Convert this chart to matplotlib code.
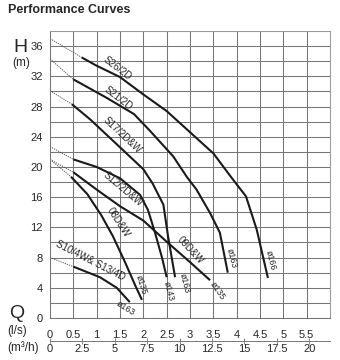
import numpy as np
import matplotlib.pyplot as plt

plt.rcParams["font.family"] = ["Liberation Sans", "DejaVu Sans"]

# Performance curves: flow Q (l/s) vs head H (m)
# dashed part near shut-off, then the solid working range
s26_dash = ([0.0, 0.68], [37.0, 34.5])
s26_q = [0.68, 1.0, 1.5, 2.0, 2.5, 3.0, 3.5, 3.9, 4.2, 4.43, 4.67]
s26_h = [34.5, 33.4, 31.9, 29.6, 27.4, 24.6, 21.8, 18.5, 16.1, 11.7, 5.3]

s21_dash = ([0.0, 0.5], [34.3, 31.6])
s21_q = [0.5, 1.2, 1.8, 2.14, 2.64, 2.93, 3.14, 3.43, 3.64, 3.81]
s21_h = [31.6, 29.2, 27.0, 24.8, 21.4, 18.7, 17.0, 13.9, 11.3, 6.0]

s17_dash = ([0.0, 0.47], [30.1, 28.3])
s17_q = [0.47, 0.86, 1.5, 2.0, 2.2, 2.43, 2.53, 2.68]
s17_h = [28.3, 26.3, 22.6, 19.7, 17.8, 15.0, 10.8, 5.4]

s12_dash = ([0.0, 0.5], [22.7, 21.0])
s12_q = [0.5, 1.0, 1.5, 1.93, 2.1, 2.25, 2.4, 2.5]
s12_h = [21.0, 20.0, 18.5, 16.3, 14.3, 11.3, 8.0, 5.4]

d09_dash = ([0.0, 0.5], [21.0, 19.3])
d09_q = [0.5, 1.0, 1.5, 2.0, 2.5, 3.0, 3.43]
d09_h = [19.3, 17.0, 14.8, 12.9, 10.1, 7.4, 5.0]

d08_dash = ([0.0, 0.45], [21.0, 18.7])
d08_q = [0.45, 0.8, 1.1, 1.35, 1.6, 1.82, 1.97]
d08_h = [18.7, 16.4, 13.6, 10.8, 7.5, 4.4, 2.4]

s10_dash = ([0.0, 0.5], [8.0, 6.8])
s10_q = [0.5, 1.07, 1.43, 1.71]
s10_h = [6.8, 5.4, 4.0, 2.1]

curves = [
    (s26_dash, s26_q, s26_h),
    (s21_dash, s21_q, s21_h),
    (s17_dash, s17_q, s17_h),
    (s12_dash, s12_q, s12_h),
    (d09_dash, d09_q, d09_h),
    (d08_dash, d08_q, d08_h),
    (s10_dash, s10_q, s10_h),
]

# curve names: (text, q, h, angle)
names = [
    ("S26/2D", 1.45, 33.1, -37),
    ("S21/2D", 1.46, 29.1, -37),
    ("S17/2D&W", 1.55, 24.2, -43),
    ("S12/2D&W", 1.57, 17.0, -40),
    ("08D&W", 1.47, 12.6, -57),
    ("09D&W", 3.0, 9.0, -47),
    ("S10/4W& S13/4D", 0.86, 7.6, -27),
]
# impeller diameters at curve ends
diams = [
    ("ø166", 4.73, 7.6, -76),
    ("ø163", 3.90, 7.9, -76),
    ("ø163", 2.88, 4.6, -76),
    ("ø143", 2.55, 3.6, -76),
    ("ø135", 3.60, 3.6, -55),
    ("ø135", 1.95, 4.4, -72),
    ("ø163", 1.63, 1.3, -32),
]

q_ticks = [0, 0.5, 1, 1.5, 2, 2.5, 3, 3.5, 4, 4.5, 5, 5.5]
q_labels = ["0", "0.5", "1", "1.5", "2", "2.5", "3", "3.5", "4", "4.5", "5", "5.5"]
m3h_ticks = [0, 2.5, 5, 7.5, 10, 12.5, 15, 17.5, 20]
m3h_labels = ["0", "2.5", "5", "7.5", "10", "12.5", "15", "17.5", "20"]
h_ticks = [0, 4, 8, 12, 16, 20, 24, 28, 32, 36]

W, H = 340, 360
fig = plt.figure(figsize=(W / 100, H / 100), dpi=100)
ax = fig.add_axes([50 / W, 42 / H, 280 / W, 287 / H])
ax.set_xlim(0, 6)
ax.set_ylim(0, 38)

grid_c = "#767676"
txt_c = "#262626"
ax.set_xticks(np.arange(0, 6.01, 0.5), minor=True)
ax.set_yticks(np.arange(0, 38.1, 2), minor=True)
ax.set_xticks(q_ticks)
ax.set_xticklabels(q_labels)
ax.set_yticks(h_ticks)
ax.set_yticklabels([str(v) for v in h_ticks])
ax.grid(which="both", color=grid_c, lw=0.75)
ax.tick_params(which="both", length=0)
ax.tick_params(axis="x", pad=9, labelsize=8, colors=txt_c)
ax.tick_params(axis="y", pad=5, labelsize=8, colors=txt_c)
for side, s in ax.spines.items():
    s.set_color(grid_c if side in ("left", "bottom") else "#9a9a9a")
    s.set_linewidth(0.75)

lc = "#1a1a1a"
for (dq, dh), q, h in curves:
    ax.plot(dq, dh, color="#4a4a4a", lw=0.6, ls=(0, (1.6, 1.1)))
    ax.plot(q, h, color=lc, lw=1.5, solid_capstyle="butt", solid_joinstyle="round")

for txt, q, h, ang in names:
    ax.text(q, h, txt, rotation=ang, ha="center", va="center", fontsize=7,
            color=txt_c, rotation_mode="anchor")
for txt, q, h, ang in diams:
    ax.text(q, h, txt, rotation=ang, ha="center", va="center", fontsize=6.3,
            color=txt_c, rotation_mode="anchor")

# secondary flow axis in m3/h
sec = ax.secondary_xaxis(-0.08, functions=(lambda q: q * 3.6, lambda m: m / 3.6))
sec.set_xticks(m3h_ticks)
sec.set_xticklabels(m3h_labels)
sec.tick_params(direction="inout", length=4, width=0.6, color=grid_c, pad=0,
                labelsize=8, labelcolor=txt_c)
sec.spines["bottom"].set_color(grid_c)
sec.spines["bottom"].set_linewidth(0.7)

fig.text(8 / W, 1 - 10 / H, "Performance Curves", fontsize=9, fontweight="bold",
         ha="left", va="center", color=txt_c)
fig.text(13 / W, 1 - 47 / H, "H", fontsize=14, ha="left", va="center", color=txt_c)
fig.text(12 / W, 1 - 63 / H, "(m)", fontsize=8.5, ha="left", va="center", color=txt_c)
fig.text(9 / W, 1 - 313 / H, "Q", fontsize=14, ha="left", va="center", color=txt_c)
fig.text(7 / W, 1 - 331 / H, "(l/s)", fontsize=8.5, ha="left", va="center", color=txt_c)
fig.text(7 / W, 1 - 348 / H, "(m³/h)", fontsize=8.5, ha="left", va="center", color=txt_c)

fig.savefig("out.png", dpi=100, facecolor="white")
